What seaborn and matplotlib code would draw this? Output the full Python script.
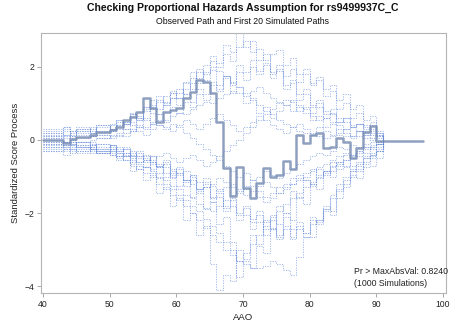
import numpy as np
import pandas as pd
import matplotlib
matplotlib.use("Agg")
import matplotlib.pyplot as plt
import seaborn as sns

# Event times (AAO) at which the score processes step
ages = [40, 43, 44, 45, 47, 48, 50, 51, 52, 53, 54, 55, 56, 57, 58, 59,
        60, 61, 62, 63, 64, 65, 66, 67, 68, 69, 70, 71, 72, 73, 74, 75,
        76, 77, 78, 79, 80, 81, 82, 83, 84, 85, 86, 87, 88, 89, 90, 91]

# Observed standardized score process, extended to the last follow-up age
observed = [0.00, -0.08, 0.03, 0.08, 0.14, 0.22, 0.27, 0.36,
            0.55, 0.63, 0.77, 1.15, 0.88, 0.49, 0.77, 0.82,
            0.88, 1.15, 1.32, 1.64, 1.59, 1.29, 0.49, -0.77,
            -1.53, -0.74, -1.32, -1.59, -1.18, -0.77, -1.01, -0.96,
            -0.58, -0.79, 0.14, -0.08, 0.14, 0.19, -0.22, -0.19,
            0.05, -0.05, -0.49, -0.22, 0.22, 0.38, -0.03, -0.02]
last_age = 97

# First 20 simulated paths
sim01 = [0.10, 0.15, 0.05, 0.25, 0.30, 0.20, 0.40, 0.55, 0.45, 0.70, 0.55, 0.90, 1.10, 0.85, 1.20, 1.35,
         1.15, 1.60, 1.85, 1.55, 2.05, 2.30, 2.10, 2.60, 2.40, 2.93, 2.55, 2.70, 2.20, 2.35, 1.80, 1.95,
         1.40, 1.55, 1.10, 1.25, 0.90, 1.00, 0.60, 0.75, 0.50, 0.60, 0.35, 0.45, 0.30, 0.40, 0.20, 0.0]
sim02 = [-0.10, -0.20, -0.05, -0.25, -0.15, -0.35, -0.30, -0.55, -0.45, -0.85, -0.70, -1.10, -0.95, -1.45, -1.30, -1.80,
         -1.60, -2.20, -2.00, -2.60, -2.35, -3.40, -4.10, -3.70, -3.85, -3.00, -3.25, -2.60, -2.85, -2.20, -2.45, -1.80,
         -2.00, -1.40, -1.60, -1.10, -1.25, -0.80, -0.95, -0.60, -0.70, -0.40, -0.50, -0.30, -0.35, -0.20, -0.10, 0.0]
sim03 = [0.05, -0.05, -0.15, -0.05, -0.20, -0.10, -0.30, -0.20, -0.45, -0.35, -0.60, -0.50, -0.80, -0.65, -1.00, -0.85,
         -1.25, -1.10, -1.55, -1.40, -1.90, -1.70, -2.30, -2.10, -2.80, -3.75, -3.30, -3.50, -2.90, -3.10, -2.45, -2.65,
         -2.00, -2.20, -1.55, -1.75, -1.20, -1.35, -0.85, -1.00, -0.60, -0.70, -0.40, -0.45, -0.20, -0.25, -0.10, 0.0]
sim04 = [-0.20, -0.25, -0.30, -0.20, -0.30, -0.35, -0.40, -0.50, -0.55, -0.65, -0.80, -0.90, -1.00, -1.20, -1.35, -1.50,
         -1.65, -1.80, -2.00, -2.20, -2.40, -2.60, -2.80, -3.00, -3.15, -3.30, -3.40, -3.50, -3.50, -3.45, -3.30, -3.40,
         -3.55, -3.70, -3.20, -2.65, -2.30, -2.20, -1.90, -1.50, -1.20, -1.00, -0.80, -0.65, -0.50, -0.35, -0.20, 0.0]
sim05 = [0.30, 0.35, 0.25, 0.35, 0.25, 0.40, 0.30, 0.50, 0.45, 0.70, 0.55, 0.85, 0.95, 1.20, 1.05, 1.30,
         1.40, 1.25, 1.70, 1.95, 1.80, 2.15, 2.00, 2.35, 2.15, 2.55, 2.70, 2.40, 2.50, 2.20, 2.35, 2.46,
         2.05, 2.25, 1.80, 1.95, 1.50, 1.65, 1.20, 1.35, 0.85, 1.00, 0.60, 0.75, 0.40, 0.50, 0.20, 0.0]
sim06 = [0.20, 0.30, 0.15, 0.25, 0.35, 0.25, 0.45, 0.30, 0.50, 0.40, 0.65, 0.55, 0.85, 0.70, 0.95, 1.15,
         0.95, 1.25, 1.05, 1.40, 1.25, 1.60, 1.40, 1.75, 1.50, 1.85, 1.65, 2.00, 1.80, 2.10, 1.85, 2.05,
         1.75, 1.95, 1.60, 1.80, 1.55, 1.73, 1.40, 1.50, 1.10, 1.25, 0.85, 0.95, 0.55, 0.65, 0.25, 0.0]
sim07 = [-0.30, -0.40, -0.25, -0.35, -0.20, -0.35, -0.25, -0.45, -0.35, -0.60, -0.45, -0.75, -0.60, -0.90, -0.75, -1.05,
         -0.90, -1.25, -1.10, -1.45, -1.30, -1.70, -1.55, -1.95, -1.80, -2.20, -2.05, -2.45, -2.25, -2.60, -2.40, -2.70,
         -2.45, -2.65, -2.35, -2.55, -2.10, -2.25, -1.80, -1.95, -1.40, -1.20, -0.95, -1.05, -0.65, -0.50, -0.30, 0.0]
sim08 = [0.10, 0.05, 0.10, 0.15, 0.20, 0.15, 0.30, 0.40, 0.50, 0.65, 0.60, 0.80, 0.90, 1.05, 1.00, 1.15,
         1.30, 1.40, 1.55, 1.70, 1.85, 2.00, 1.90, 1.75, 1.60, 1.45, 1.30, 1.10, 0.95, 0.80, 0.70, 0.55,
         0.45, 0.35, 0.25, 0.20, 0.15, 0.10, 0.05, 0.10, 0.15, 0.10, 0.05, 0.10, 0.05, 0.0, -0.05, 0.0]
sim09 = [-0.05, -0.15, 0.00, -0.15, -0.05, -0.25, -0.15, -0.30, -0.20, -0.45, -0.30, -0.55, -0.45, -0.70, -0.55, -0.90,
         -0.75, -1.10, -0.95, -1.35, -1.20, -1.60, -1.45, -1.85, -1.65, -2.05, -1.85, -2.15, -1.95, -2.25, -2.05, -2.30,
         -2.10, -2.45, -2.25, -2.55, -2.20, -2.30, -1.95, -2.05, -1.60, -1.30, -1.00, -0.85, -0.60, -0.45, -0.30, 0.0]
sim10 = [0.20, 0.15, 0.25, 0.20, 0.10, 0.15, 0.05, 0.10, 0.20, 0.30, 0.25, 0.15, 0.30, 0.40, 0.35, 0.25,
         0.40, 0.55, 0.45, 0.30, 0.45, 0.60, 0.70, 0.55, 0.40, 0.25, 0.35, 0.50, 0.65, 0.55, 0.40, 0.30,
         0.20, 0.35, 0.45, 0.30, 0.20, 0.35, 0.25, 0.15, 0.30, 0.20, 0.10, 0.25, 0.15, 0.05, 0.10, 0.0]
sim11 = [-0.15, -0.20, -0.25, -0.30, -0.25, -0.20, -0.15, -0.25, -0.35, -0.30, -0.45, -0.40, -0.55, -0.45, -0.35, -0.50,
         -0.60, -0.50, -0.40, -0.55, -0.70, -0.60, -0.45, -0.30, -0.15, 0.0, 0.20, 0.35, 0.55, 0.70, 0.85, 1.00,
         1.10, 1.05, 0.95, 0.85, 0.75, 0.90, 0.80, 0.70, 0.60, 0.50, 0.40, 0.45, 0.35, 0.25, 0.15, 0.0]
sim12 = [0.25, 0.35, 0.20, 0.30, 0.20, 0.35, 0.25, 0.40, 0.30, 0.50, 0.35, 0.60, 0.45, 0.70, 0.55, 0.90,
         0.75, 1.05, 0.90, 1.25, 1.10, 1.50, 1.35, 1.75, 1.55, 2.05, 1.85, 2.20, 1.90, 2.05, 1.70, 1.90,
         1.50, 1.65, 1.25, 1.40, 0.95, 1.10, 0.70, 0.85, 0.50, 0.60, 0.35, 0.45, 0.25, 0.30, 0.15, 0.0]
sim13 = [-0.25, -0.30, -0.35, -0.30, -0.35, -0.30, -0.40, -0.45, -0.55, -0.70, -0.80, -0.75, -0.90, -1.05, -1.20, -1.35,
         -1.50, -1.65, -1.80, -1.95, -2.15, -2.35, -2.55, -2.80, -3.00, -3.30, -3.10, -2.85, -2.60, -2.35, -2.10, -1.95,
         -1.75, -1.60, -1.45, -1.30, -1.15, -1.00, -0.85, -0.70, -0.60, -0.55, -0.45, -0.35, -0.25, -0.20, -0.10, 0.0]
sim14 = [0.0, -0.05, -0.10, -0.05, -0.15, -0.10, -0.20, -0.30, -0.25, -0.40, -0.50, -0.45, -0.60, -0.70, -0.65, -0.80,
         -0.90, -0.85, -1.00, -1.15, -1.05, -1.25, -1.40, -1.30, -1.20, -1.35, -1.50, -1.40, -1.55, -1.70, -1.60, -1.45,
         -1.30, -1.20, -1.05, -0.90, -0.80, -0.95, -0.85, -0.75, -0.65, -0.55, -0.70, -0.60, -0.45, -0.40, -0.30, 0.0]
sim15 = [-0.20, -0.15, -0.10, -0.05, 0.0, 0.05, 0.10, 0.15, 0.10, 0.25, 0.35, 0.30, 0.45, 0.55, 0.50, 0.65,
         0.75, 0.70, 0.85, 0.95, 1.05, 1.00, 1.15, 1.25, 1.35, 1.30, 1.20, 1.35, 1.45, 1.30, 1.15, 1.05,
         0.95, 0.80, 0.90, 0.75, 0.65, 0.55, 0.60, 0.50, 0.40, 0.30, 0.35, 0.25, 0.20, 0.15, 0.10, 0.0]
sim16 = [-0.10, -0.05, -0.15, -0.20, -0.25, -0.30, -0.25, -0.35, -0.45, -0.55, -0.65, -0.75, -0.85, -1.00, -1.10, -1.25,
         -1.35, -1.50, -1.60, -1.75, -1.85, -1.95, -1.80, -1.65, -1.50, -1.40, -1.25, -1.10, -1.00, -0.85, -0.95, -1.05,
         -0.90, -0.80, -0.65, -0.55, -0.45, -0.35, -0.40, -0.30, -0.20, -0.25, -0.15, -0.20, -0.10, -0.05, -0.10, 0.0]
sim17 = [0.15, 0.25, 0.10, 0.30, 0.20, 0.40, 0.30, 0.55, 0.45, 0.75, 0.60, 0.90, 0.75, 1.10, 0.95, 1.30,
         1.15, 1.55, 1.40, 1.85, 1.65, 1.92, 1.50, 1.70, 1.30, 1.45, 1.00, 1.15, 0.75, 0.90, 0.60, 0.80,
         0.95, 1.10, 0.80, 0.90, 0.55, 0.65, 0.35, 0.45, 0.20, 0.30, 0.10, 0.25, 0.15, 0.20, 0.05, 0.0]
sim18 = [-0.05, -0.15, -0.05, -0.20, -0.10, -0.25, -0.15, -0.35, -0.25, -0.45, -0.35, -0.60, -0.45, -0.75, -0.60, -0.95,
         -0.80, -1.15, -0.95, -1.35, -1.15, -1.55, -1.35, -1.80, -1.60, -2.00, -1.80, -2.25, -2.05, -2.45, -2.20, -2.60,
         -2.35, -2.70, -2.45, -2.65, -2.65, -2.20, -1.90, -1.60, -1.35, -1.10, -0.85, -0.70, -0.50, -0.40, -0.25, 0.0]
sim19 = [0.05, 0.10, 0.0, 0.05, 0.10, 0.05, 0.15, 0.20, 0.30, 0.25, 0.40, 0.35, 0.50, 0.40, 0.30, 0.45,
         0.35, 0.20, 0.05, -0.10, -0.25, -0.40, -0.55, -0.70, -0.85, -1.00, -0.90, -1.10, -1.25, -1.15, -1.30, -1.45,
         -1.35, -1.20, -1.10, -1.00, -0.85, -0.75, -0.65, -0.55, -0.45, -0.35, -0.40, -0.30, -0.20, -0.15, -0.05, 0.0]
sim20 = [-0.30, -0.25, -0.20, -0.15, -0.25, -0.30, -0.35, -0.45, -0.40, -0.50, -0.60, -0.55, -0.65, -0.75, -0.90, -1.00,
         -0.95, -1.10, -1.20, -1.35, -1.30, -1.20, -1.05, -1.15, -1.30, -1.45, -1.35, -1.25, -1.40, -1.55, -1.45, -1.30,
         -1.20, -1.05, -0.95, -1.10, -1.20, -1.05, -0.90, -0.85, -0.80, -0.75, -0.85, -0.80, -0.75, -0.70, -0.50, 0.0]

simulated = [sim01, sim02, sim03, sim04, sim05, sim06, sim07, sim08, sim09, sim10,
             sim11, sim12, sim13, sim14, sim15, sim16, sim17, sim18, sim19, sim20]

p_value_text = "Pr > MaxAbsVal: 0.8240"
n_sim_text = "(1000 Simulations)"

x_ticks = [40, 50, 60, 70, 80, 90, 100]
y_ticks = [-4, -2, 0, 2]

# Long tables for seaborn
sim_df = pd.DataFrame({
    "AAO": np.tile(ages, len(simulated)),
    "score": np.concatenate(simulated),
    "path": np.repeat(np.arange(1, len(simulated) + 1), len(ages)),
})
obs_df = pd.DataFrame({"AAO": ages + [last_age], "score": observed + [observed[-1]]})

sns.set_theme(style="white")
plt.rcParams["font.family"] = ["Liberation Sans", "DejaVu Sans"]

fig = plt.figure(figsize=(4.52, 3.29), dpi=100)
ax = fig.add_axes([0.0907, 0.1094, 0.8960, 0.7903])

sns.lineplot(data=sim_df, x="AAO", y="score", units="path", estimator=None,
             color="#5a80d8", alpha=0.5, linewidth=0.75, linestyle=(0, (1.2, 1.2)),
             drawstyle="steps-post", ax=ax, legend=False)
sns.lineplot(data=obs_df, x="AAO", y="score", estimator=None,
             color="#7288b0", alpha=0.8, linewidth=1.8,
             drawstyle="steps-post", ax=ax, legend=False)

ax.set_xlim(39.7, 100.45)
ax.set_ylim(-4.19, 2.93)
ax.set_xticks(x_ticks)
ax.set_yticks(y_ticks)
ax.tick_params(axis="both", which="major", direction="out", length=3, width=0.6,
               color="#9a9a9a", labelsize=6.2, pad=2, labelcolor="#222222",
               bottom=True, left=True)
for s in ax.spines.values():
    s.set_color("#b5b5b5")
    s.set_linewidth(0.8)

ax.set_xlabel("AAO", fontsize=6.8, color="#222222", labelpad=3)
ax.set_ylabel("Standardized Score Process", fontsize=6.8, color="#222222", labelpad=3)

ax.text(0.772, 0.082, p_value_text, transform=ax.transAxes, fontsize=6.3,
        color="#222222", ha="left", va="center")
ax.text(0.772, 0.036, n_sim_text, transform=ax.transAxes, fontsize=6.3,
        color="#222222", ha="left", va="center")

fig.text(0.537, 0.975, "Checking Proportional Hazards Assumption for rs9499937C_C",
         ha="center", va="center", fontsize=7.6, fontweight="bold", color="#111111")
fig.text(0.537, 0.936, "Observed Path and First 20 Simulated Paths",
         ha="center", va="center", fontsize=6.3, color="#111111")

fig.savefig("out.png", dpi=100)
